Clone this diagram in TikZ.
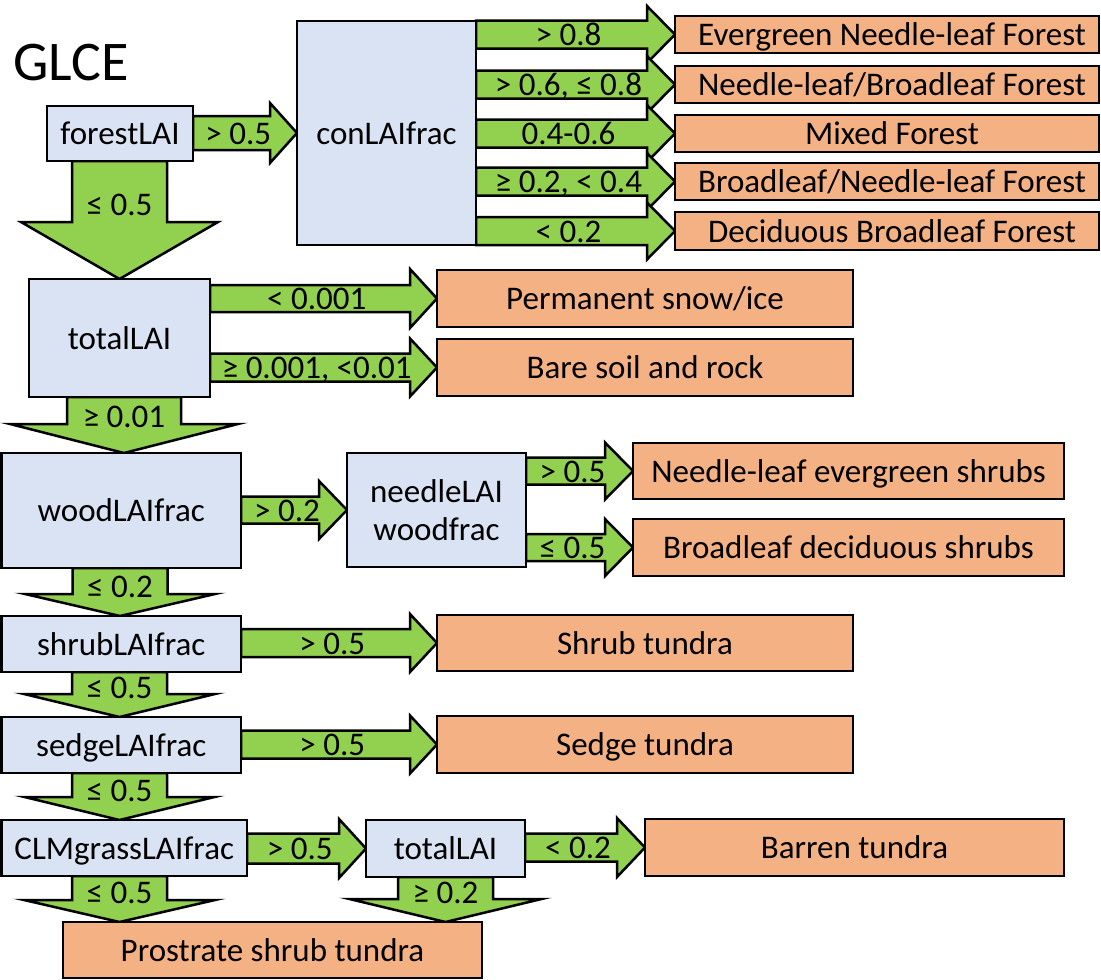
\documentclass[tikz,border=0pt]{standalone}
\usepackage{fontspec}
\setmainfont{Carlito}
\usetikzlibrary{calc}
\pgfdeclarelayer{bg}
\pgfsetlayers{bg,main}
\definecolor{gfill}{HTML}{92D050}
\definecolor{bfill}{HTML}{DAE3F3}
\definecolor{ofill}{HTML}{F4B183}
\tikzset{
 boxbase/.style={draw=black, line width=2.5pt, inner sep=0pt, outer sep=0pt, font=\fontsize{33}{39}\selectfont, text height=22pt, text depth=0pt},
 bluebox/.style={boxbase, fill=bfill},
 orangebox/.style={boxbase, fill=ofill},
 garrow/.style={draw=black, line width=2.5pt, fill=gfill, line join=miter},
 lbl/.style={font=\fontsize{33}{39}\selectfont, inner sep=0pt, anchor=base},
}
% box: style, x0, y0, x1, y1, name, text
\newcommand{\bx}[7]{\node[#1, minimum width={(#4-#2)*1pt}, minimum height={(#5-#3)*1pt}] (#6) at ({(#2+#4)/2},{(#3+#5)/2}) {#7};}
\newcommand{\rsh}{\hspace*{10pt}}
% horizontal block arrow: src, dst, half shaft, half head, head length, label
\newcommand{\harr}[6]{%
 \begin{pgfonlayer}{bg}
 \path[garrow] let \p1=(#1.east), \p2=(#2.west) in
   (\x1,\y2+#3pt) -- (\x2-#5pt,\y2+#3pt) -- (\x2-#5pt,\y2+#4pt) -- (\x2,\y2)
   -- (\x2-#5pt,\y2-#4pt) -- (\x2-#5pt,\y2-#3pt) -- (\x1,\y2-#3pt) -- cycle
   ({(\x1+\x2-#5pt/2)/2},\y2-11pt) node[lbl] {#6};
 \end{pgfonlayer}}
% vertical block arrow: src, dst, centre x, half shaft, half head, head length, label, baseline offset
\newcommand{\varr}[8]{%
 \begin{pgfonlayer}{bg}
 \path[garrow] let \p1=(#1.south), \p2=(#2.north) in
   (#3pt-#4pt,\y1) -- (#3pt-#4pt,\y2+#6pt) -- (#3pt-#5pt,\y2+#6pt) -- (#3pt,\y2)
   -- (#3pt+#5pt,\y2+#6pt) -- (#3pt+#4pt,\y2+#6pt) -- (#3pt+#4pt,\y1) -- cycle
   (#3pt,\y2+#6pt-#8pt) node[lbl] {#7};
 \end{pgfonlayer}}
\begin{document}
\begin{tikzpicture}[x=1pt,y=-1pt]
\useasboundingbox (0,0) rectangle (1101,980);
\node[font=\fontsize{56}{60}\selectfont, anchor=base west, inner sep=0pt] (title) at (13,80) {GLCE};
\bx{bluebox}{47}{106}{193}{161}{forest}{forestLAI}
\bx{bluebox}{297}{21}{476}{245}{con}{conLAIfrac}
\bx{orangebox}{675}{16}{1099}{53}{o1}{\rsh Evergreen Needle-leaf Forest}
\bx{orangebox}{675}{66}{1099}{103}{o2}{\rsh Needle-leaf/Broadleaf Forest}
\bx{orangebox}{675}{115}{1099}{152}{o3}{\rsh Mixed Forest}
\bx{orangebox}{675}{163}{1099}{200}{o4}{\rsh Broadleaf/Needle-leaf Forest}
\bx{orangebox}{675}{212}{1099}{250}{o5}{\rsh Deciduous Broadleaf Forest}
\bx{bluebox}{29}{279}{210}{397}{total}{totalLAI}
\bx{orangebox}{437}{270}{853}{327}{snow}{Permanent snow/ice}
\bx{orangebox}{437}{339}{853}{396}{bare}{Bare soil and rock}
\bx{bluebox}{1.5}{453}{241}{568}{wood}{woodLAIfrac}
\bx{bluebox}{347}{453}{526}{567}{needle}{}
\node[lbl] (needleA) at (436.5,502) {needleLAI};
\node[lbl] (needleB) at (436.5,540) {woodfrac};
\bx{orangebox}{633}{443}{1064}{499}{nes}{Needle-leaf evergreen shrubs}
\bx{orangebox}{633}{519}{1064}{576}{bds}{Broadleaf deciduous shrubs}
\bx{bluebox}{1.5}{616}{241}{672}{shrub}{shrubLAIfrac}
\bx{orangebox}{437}{615}{853}{671}{shrubT}{Shrub tundra}
\bx{bluebox}{1.5}{717}{241}{773}{sedge}{sedgeLAIfrac}
\bx{orangebox}{437}{716}{853}{773}{sedgeT}{Sedge tundra}
\bx{bluebox}{1.5}{820}{247}{876}{clm}{CLMgrassLAIfrac}
\bx{bluebox}{366}{820}{525}{877}{total2}{totalLAI}
\bx{orangebox}{645}{819}{1064}{876}{barren}{Barren tundra}
\bx{orangebox}{63}{922}{482}{978}{prost}{Prostrate shrub tundra}
% horizontal arrows
\harr{forest}{con}{17}{30}{27}{> 0.5}
\harr{con}{o1}{14}{28.5}{28}{> 0.8}
\harr{con}{o2}{14}{28.5}{28}{> 0.6, ≤ 0.8}
\harr{con}{o3}{14}{28.5}{28}{0.4-0.6}
\harr{con}{o4}{14}{28.5}{28}{≥ 0.2, < 0.4}
\harr{con}{o5}{14}{28.5}{28}{< 0.2}
\harr{total}{snow}{13.5}{29.5}{27}{< 0.001}
\harr{total}{bare}{14}{29}{27}{≥ 0.001, <0.01}
\harr{wood}{needle}{13.5}{29}{28}{> 0.2}
\harr{needle}{nes}{13.5}{28.5}{28}{> 0.5}
\harr{needle}{bds}{13.5}{28.5}{28}{≤ 0.5}
\harr{shrub}{shrubT}{14}{29}{27}{> 0.5}
\harr{sedge}{sedgeT}{14}{29}{27}{> 0.5}
\harr{clm}{total2}{15}{29.5}{27}{> 0.5}
\harr{total2}{barren}{14}{29.5}{28}{< 0.2}
% vertical arrows
\varr{forest}{total}{119.5}{47.5}{98.5}{57}{≤ 0.5}{-7}
\varr{total}{wood}{124}{57}{114}{29}{≥ 0.01}{3}
\varr{wood}{shrub}{120}{47.5}{95}{22}{≤ 0.2}{3}
\varr{shrub}{sedge}{119.5}{47.5}{95.5}{23}{≤ 0.5}{4}
\varr{sedge}{clm}{119.5}{47.5}{95}{23}{≤ 0.5}{4}
\varr{clm}{prost}{119.5}{47.5}{95.5}{22}{≤ 0.5}{3}
\varr{total2}{prost}{445.5}{47.5}{96}{23}{≥ 0.2}{4}
\end{tikzpicture}
\end{document}
